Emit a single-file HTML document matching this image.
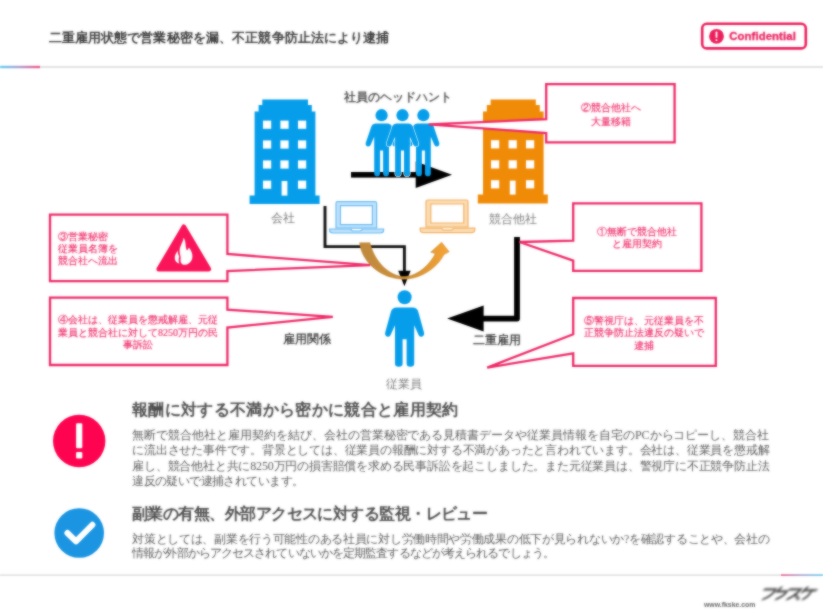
<!DOCTYPE html>
<html lang="ja">
<head>
<meta charset="utf-8">
<title>二重雇用状態で営業秘密を漏洩</title>
<style>
html,body{margin:0;padding:0;background:#fff;}
body{width:823px;height:616px;overflow:hidden;position:relative;}
#stage{position:absolute;left:0;top:0;width:823px;height:616px;background:#fff;overflow:hidden;}
#txt{position:absolute;left:0;top:0;width:823px;height:616px;filter:url(#softt);}
#art{position:absolute;left:0;top:0;}
#shapes{filter:url(#soft);}
.t{position:absolute;white-space:nowrap;margin:0;font-family:"Liberation Serif",serif;line-height:1;}
.g{font-family:"Liberation Sans",sans-serif;}
.pk{color:#ee2a68;font-size:10px;line-height:12.4px;-webkit-text-stroke:0.15px #ee2a68;}
.c{text-align:center;}
.lbl{font-size:12px;color:#7c7c7c;}
.lbd{font-size:12px;color:#2a2a2a;-webkit-text-stroke:0.2px #2a2a2a;}
h1.t{font-size:13px;font-weight:bold;color:#3a3a3a;}
h2.t{font-size:16px;font-weight:bold;color:#4c4c4c;}
.bd{font-size:12px;color:#5c5c5c;}
</style>
</head>
<body>
<div id="stage">

<svg id="art" width="823" height="616" viewBox="0 0 823 616">
  <defs>
    <filter id="soft" filterUnits="userSpaceOnUse" x="0" y="0" width="823" height="616" color-interpolation-filters="sRGB"><feGaussianBlur stdDeviation="1" result="b"/><feComposite in="SourceGraphic" in2="b" operator="arithmetic" k1="0" k2="0.4" k3="0.6" k4="0"/></filter>
    <filter id="softl" x="-20%" y="-60%" width="140%" height="220%" color-interpolation-filters="sRGB"><feGaussianBlur stdDeviation="1"/></filter>
    <filter id="softt" x="0" y="0" width="100%" height="100%" color-interpolation-filters="sRGB"><feGaussianBlur stdDeviation="1" result="b"/><feComposite in="SourceGraphic" in2="b" operator="arithmetic" k1="0" k2="0.28" k3="0.72" k4="0"/></filter>
    <linearGradient id="hl" x1="0" x2="1" y1="0" y2="0">
      <stop offset="0" stop-color="#5fd0f3"/>
      <stop offset="0.45" stop-color="#a9a3d4"/>
      <stop offset="1" stop-color="#f2578a"/>
    </linearGradient>
    <linearGradient id="fl" x1="0" x2="1" y1="0" y2="0">
      <stop offset="0" stop-color="#f2578a"/>
      <stop offset="0.5" stop-color="#a9a3d4"/>
      <stop offset="1" stop-color="#5fd0f3"/>
    </linearGradient>
    <linearGradient id="cv" x1="364" x2="446" y1="0" y2="0" gradientUnits="userSpaceOnUse">
      <stop offset="0" stop-color="#c08a3c"/>
      <stop offset="0.55" stop-color="#cf8f36"/>
      <stop offset="1" stop-color="#f5a233"/>
    </linearGradient>
    <g id="person">
      <circle cx="0" cy="0" r="6.1"/>
      <path d="M0 8.4 H5.5 Q9.6 8.4 10.6 12.4 L15.8 27.6 Q16.5 30.6 13.8 31.2 Q11.6 31.6 10.8 29.2 L7.4 21.5 V58.2 Q7.4 61 4.4 61 Q1.5 61 1.5 58.2 V35.4 H-1.5 V58.2 Q-1.5 61 -4.4 61 Q-7.4 61 -7.4 58.2 V21.5 L-10.8 29.2 Q-11.6 31.6 -13.8 31.2 Q-16.5 30.6 -15.8 27.6 L-10.6 12.4 Q-9.6 8.4 -5.5 8.4 Z"/>
    </g>
    <g id="bigperson">
      <circle cx="0" cy="0" r="7"/>
      <path d="M0 10.4 H8 Q12.6 10.4 13.8 15 L19.4 35.4 Q20.1 38.8 17.2 39.5 Q14.6 40 13.8 37.2 L9.6 28 V66.4 Q9.6 69.6 5.8 69.6 Q2 69.6 2 66.4 V42 H-2 V66.4 Q-2 69.6 -5.8 69.6 Q-9.6 69.6 -9.6 66.4 V28 L-13.8 37.2 Q-14.6 40 -17.2 39.5 Q-20.1 38.8 -19.4 35.4 L-13.8 15 Q-12.6 10.4 -8 10.4 Z"/>
    </g>
  </defs>
  <g id="shapes">

  <!-- header rule -->
  <rect x="0" y="66.2" width="823" height="1.6" fill="#dcdcdc"/>
  <rect x="0" y="65.8" width="40" height="2.4" fill="url(#hl)"/>

  <!-- footer rule -->
  <rect x="0" y="574.4" width="823" height="1.4" fill="#dcdcdc"/>
  <rect x="781" y="574.2" width="42" height="1.8" fill="url(#fl)" opacity="0.85"/>

  <!-- confidential badge -->
  <rect x="702.2" y="23.8" width="103.6" height="24.6" rx="4.5" ry="4.5" fill="#fff" stroke="#ec1f5c" stroke-width="2.6"/>
  <circle cx="716.5" cy="36.3" r="7.4" fill="#ec1f5c"/>
  <rect x="715.6" y="31.6" width="1.8" height="6.2" rx="0.6" fill="#fff"/>
  <rect x="715.6" y="39.2" width="1.8" height="1.9" rx="0.6" fill="#fff"/>

  <!-- blue building -->
  <g fill="#069eeb">
    <path d="M262.3 99.5 H308 V105 H311.8 V111.4 H315.4 V195.6 H319.6 V204 H249.6 V195.6 H254.6 V111.4 H258.6 V105 H262.3 Z"/>
  </g>
  <g fill="#fff">
    <rect x="263.0" y="120.6" width="8.2" height="8.2"/><rect x="280.4" y="120.6" width="8.2" height="8.2"/><rect x="298.0" y="120.6" width="8.2" height="8.2"/>
    <rect x="263.0" y="140.4" width="8.2" height="8.2"/><rect x="280.4" y="140.4" width="8.2" height="8.2"/><rect x="298.0" y="140.4" width="8.2" height="8.2"/>
    <rect x="263.0" y="160.4" width="8.2" height="8.2"/><rect x="280.4" y="160.4" width="8.2" height="8.2"/><rect x="298.0" y="160.4" width="8.2" height="8.2"/>
    <rect x="263.0" y="180.6" width="8.2" height="8.2"/><rect x="298.0" y="180.6" width="8.2" height="8.2"/>
    <rect x="281.6" y="181" width="5.8" height="14.6"/>
  </g>

  <!-- orange building -->
  <g fill="#f08b08">
    <path d="M490.6 99.5 H535.8 V105 H539.8 V111.4 H543.6 V194.6 H547.8 V203.4 H477.8 V194.6 H483 V111.4 H486.8 V105 H490.6 Z"/>
  </g>
  <g fill="#fff">
    <rect x="491.0" y="140.2" width="8.2" height="8.2"/><rect x="508.6" y="140.2" width="8.2" height="8.2"/><rect x="526.0" y="140.2" width="8.2" height="8.2"/>
    <rect x="491.0" y="160.3" width="8.2" height="8.2"/><rect x="508.6" y="160.3" width="8.2" height="8.2"/><rect x="526.0" y="160.3" width="8.2" height="8.2"/>
    <rect x="491.0" y="180.2" width="8.2" height="8.2"/><rect x="526.0" y="180.2" width="8.2" height="8.2"/>
    <rect x="509.8" y="180.6" width="5.8" height="14"/>
  </g>

  <!-- headhunt arrow -->
  <rect x="351" y="172" width="66" height="5.6" fill="#000"/>
  <path d="M415.7 161.6 L452 174.8 L415.7 188 Z" fill="#000"/>

  <!-- three people -->
  <g fill="#069eeb">
    <use href="#person" x="381.6" y="115.2"/>
    <use href="#person" x="423.4" y="115.2"/>
    <use href="#person" x="402.5" y="115.2" stroke="#fff" stroke-width="1.2" paint-order="stroke"/>
  </g>

  <!-- laptops -->
  <g stroke="#6dbcf3" stroke-width="1.2">
    <path fill="#bfe2fb" fill-rule="evenodd" d="M337.6 201.6 H375 Q376.6 201.6 376.6 203.2 V228 H336 V203.2 Q336 201.6 337.6 201.6 Z M340.4 205.6 V224.6 H372.4 V205.6 Z"/>
    <path fill="#bfe2fb" d="M329.6 229 H383.6 V230.6 Q383.6 233 380.2 233 H333 Q329.6 233 329.6 230.6 Z"/>
    <path fill="#fff" d="M350.6 229 Q351.6 231 353.6 231 H359.6 Q361.6 231 362.6 229"/>
  </g>
  <g stroke="#f3b163" stroke-width="1.2">
    <path fill="#fbdcb4" fill-rule="evenodd" d="M427.6 200 H466.4 Q468 200 468 201.6 V227 H426 V201.6 Q426 200 427.6 200 Z M430.8 204 V223 H463.8 V204 Z"/>
    <path fill="#fbdcb4" d="M420.2 228.2 H474.8 V229.8 Q474.8 232.6 471.4 232.6 H423.6 Q420.2 232.6 420.2 229.8 Z"/>
    <path fill="#fff" d="M441.4 228.2 Q442.4 230.2 444.4 230.2 H450.6 Q452.6 230.2 453.6 228.2"/>
  </g>

  <!-- black connector company -> employee -->
  <path d="M325 206 V246.6 H404.4 V272" fill="none" stroke="#111" stroke-width="2.9"/>
  <path d="M398.2 270.8 H410.6 L404.4 286.2 Z" fill="#000"/>

  <!-- curved arrow -->
  <path d="M359.6 242.7 C361.5 262 381 279.2 404 279.2 C420 279.2 437 268.5 444 254.6 L449.2 251.8 L441.6 242.2 L430.6 252.2 L435.2 253.6 C431 263 418 276.6 404 276.6 C392 276.6 375 264 370 242.7 Z" fill="url(#cv)" stroke="#b9812f" stroke-width="0.6" stroke-opacity="0.7"/>

  <!-- employee -->
  <use href="#bigperson" x="404.6" y="297.2" fill="#069eeb"/>

  <!-- dual employment arrow -->
  <path d="M517 237 V318.6 H482" fill="none" stroke="#000" stroke-width="5.8" stroke-linejoin="round"/>
  <path d="M483.6 305.4 L447.2 318.5 L483.6 331.4 Z" fill="#000"/>

  <!-- callouts -->
  <g fill="#fff" stroke="#ee2a68" stroke-width="2.3" stroke-linejoin="miter">
    <!-- 2 -->
    <path d="M546.2 84.2 H674.6 V142.4 H546.2 V133 L428.8 124.4 L546.2 119.2 Z"/>
    <!-- 1 -->
    <path d="M573.2 203.4 H701.4 V270.8 H573.2 V260.6 L519.4 242 L573.2 240.6 Z"/>
    <!-- 5 -->
    <path d="M573.2 298 H715.8 V365.8 H573.2 V353.4 L487.2 367.6 L573.2 334.2 Z"/>
    <!-- 3 -->
    <path d="M50 214.6 H227.4 V254 L370.2 265.2 L227.4 271 V281.2 H50 Z"/>
    <!-- 4 -->
    <path d="M50 297.6 H227.4 V309.6 L332.8 316.9 L227.4 327.6 V365 H50 Z"/>
  </g>

  <!-- fire triangle -->
  <path d="M183.8 226.6 L209 269.2 H158.6 Z" fill="#fa1459" stroke="#fa1459" stroke-width="4.4" stroke-linejoin="round"/>
  <path d="M183.6 237.7 C186.5 242 184.8 246 187 250.6 C188 249.5 188.6 248.6 188.8 247.6 C191.4 250.6 192.6 254 192.4 257 C192 261.6 188.6 264.8 184.6 264.8 C182 264.8 180 262.6 180.6 259 C181 256 179.6 254.6 179.6 251 C179.6 246 183 242.5 183.6 237.7 Z" fill="#fff"/>
  <path d="M177.8 250.6 C176 253.4 174.6 255.6 174.8 258.4 C175 261 176.8 263 179.4 263.6 C178.2 261 178.6 258.6 179.2 256.4 C178.2 254.6 177.6 252.8 177.8 250.6 Z" fill="#fff"/>

  <!-- bottom icons -->
  <circle cx="79.2" cy="441" r="26.2" fill="#fd0350"/>
  <rect x="76.1" y="423.2" width="6.2" height="25" rx="1.2" fill="#fff"/>
  <rect x="76.1" y="452" width="6.2" height="6.4" rx="1.2" fill="#fff"/>
  <circle cx="79.2" cy="533" r="24.8" fill="#1b95e2"/>
  <path d="M67.4 533 L76 541.4 L92.4 524.8" fill="none" stroke="#fff" stroke-width="6" stroke-linecap="round" stroke-linejoin="round"/>

  <!-- logo (stylised katakana) -->
  <g fill="none" stroke="#3a3a3a" stroke-width="2.1" stroke-linecap="round" transform="translate(759.8 587.4) scale(0.93 0.98) skewX(-24)" filter="url(#softl)">
    <path d="M6 2 H18 Q17 9 9 12"/>
    <path d="M23 0 L21 4 M20 4 H31 Q30 9 23 12"/>
    <path d="M33 2 H45 Q42 8 35 12 M41 7 L47 12"/>
    <path d="M51 0 L48 5 M49 3 H62 M57 3 Q57 9 52 12"/>
  </g>
</g>
</svg>

<div id="txt">
<!-- header -->
<h1 class="t" style="left:48.5px;top:31px;letter-spacing:0.12px;">二重雇用状態で営業秘密を漏、不正競争防止法により逮捕</h1>
<div class="t g" style="left:729.2px;top:30.6px;font-size:11.3px;font-weight:bold;color:#e8185a;letter-spacing:0.12px;-webkit-text-stroke:0.3px #e8185a;">Confidential</div>

<!-- diagram labels -->
<div class="t g" style="left:343.6px;top:91px;font-size:12px;color:#444;-webkit-text-stroke:0.3px #444;">社員のヘッドハント</div>
<div class="t lbl" style="left:271px;top:212.4px;">会社</div>
<div class="t lbl" style="left:489px;top:212.6px;">競合他社</div>
<div class="t lbl" style="left:386px;top:378.4px;">従業員</div>
<div class="t lbd" style="left:283px;top:333.4px;">雇用関係</div>
<div class="t lbd" style="left:472.6px;top:333.8px;">二重雇用</div>

<!-- callout text -->
<div class="t pk c" style="left:546px;width:129px;top:101.2px;line-height:13.6px;">②競合他社へ<br>大量移籍</div>
<div class="t pk c" style="left:573px;width:128px;top:226.2px;line-height:12.1px;">①無断で競合他社<br>と雇用契約</div>
<div class="t pk c" style="left:573px;width:142px;top:314.6px;line-height:12.7px;">⑤警視庁は、元従業員を不<br>正競争防止法違反の疑いで<br>逮捕</div>
<div class="t pk" style="left:57.6px;top:231.4px;line-height:11.8px;">③営業秘密<br>従業員名簿を<br>競合社へ流出</div>
<div class="t pk c" style="left:49px;width:178px;top:313.8px;line-height:12.8px;">④会社は、従業員を懲戒解雇、元従<br>業員と競合社に対して8250万円の民<br>事訴訟</div>

<!-- bottom copy -->
<h2 class="t" style="left:132px;top:402px;letter-spacing:0.33px;">報酬に対する不満から密かに競合と雇用契約</h2>
<div class="t bd" style="left:132.2px;top:429px;letter-spacing:-0.03px;">無断で競合他社と雇用契約を結び、会社の営業秘密である見積書データや従業員情報を自宅のPCからコピーし、競合社</div>
<div class="t bd" style="left:132.2px;top:444.4px;letter-spacing:-0.2px;">に流出させた事件です。背景としては、従業員の報酬に対する不満があったと言われています。会社は、従業員を懲戒解</div>
<div class="t bd" style="left:132.2px;top:460.2px;letter-spacing:-0.19px;">雇し、競合他社と共に8250万円の損害賠償を求める民事訴訟を起こしました。また元従業員は、警視庁に不正競争防止法</div>
<div class="t bd" style="left:132.2px;top:475.4px;letter-spacing:-0.59px;">違反の疑いで逮捕されています。</div>

<h2 class="t" style="left:132px;top:505.6px;letter-spacing:-0.55px;">副業の有無、外部アクセスに対する監視・レビュー</h2>
<div class="t bd" style="left:132.2px;top:532.6px;letter-spacing:-0.29px;">対策としては、副業を行う可能性のある社員に対し労働時間や労働成果の低下が見られないか?を確認することや、会社の</div>
<div class="t bd" style="left:132.2px;top:547px;letter-spacing:-0.9px;">情報が外部からアクセスされていないかを定期監査するなどが考えられるでしょう。</div>

<!-- footer -->
<div class="t g" style="left:704px;top:602.2px;font-size:6.9px;font-weight:bold;color:#666;">www.fkske.com</div>

</div>
</div>
</body>
</html>
